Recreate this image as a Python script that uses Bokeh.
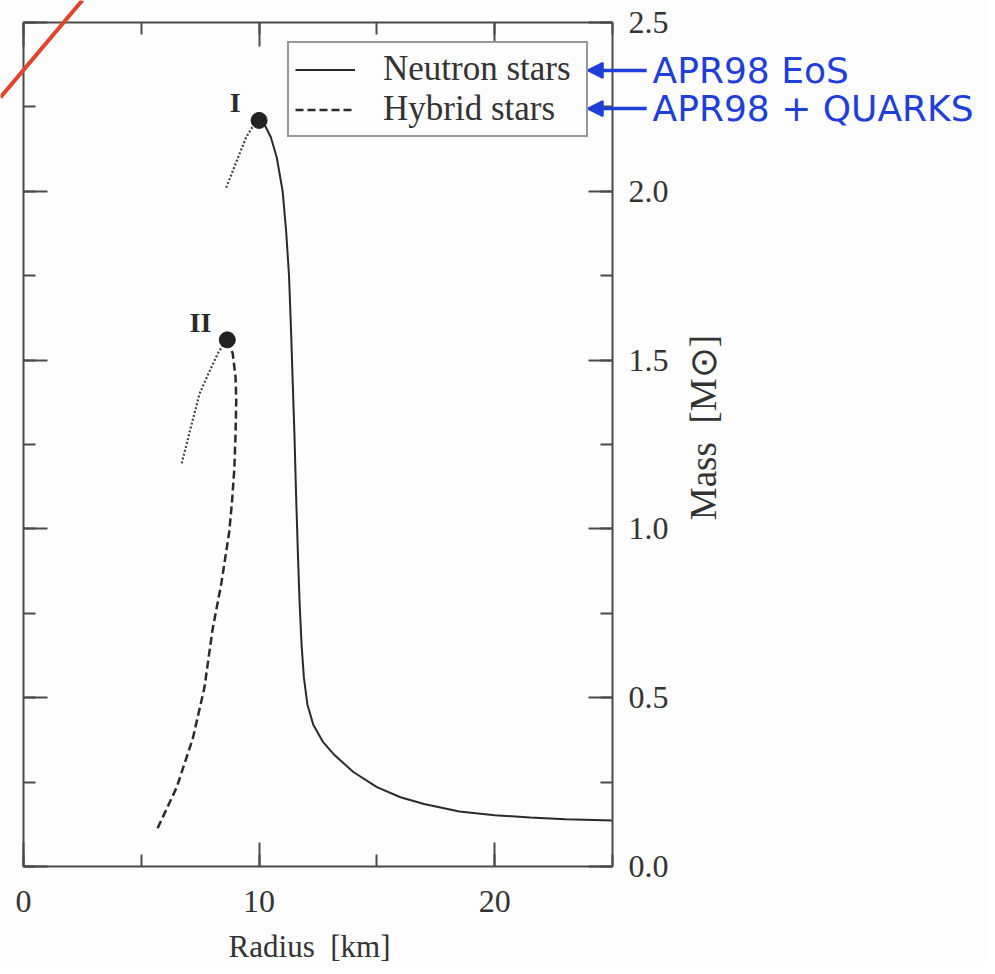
from bokeh.plotting import figure
from bokeh.models import (LinearAxis, SingleIntervalTicker, Range1d, Legend, LegendItem,
                          Label, Arrow, NormalHead, PrintfTickFormatter, CustomJSTickFormatter)
from bokeh.core.properties import value
from bokeh.embed import file_html
from bokeh.resources import INLINE
import math

# ---- data ----
ns_r = [10.0, 10.25, 10.5, 10.75, 11.0, 11.15, 11.27, 11.35, 11.42, 11.5, 11.57, 11.65,
        11.72, 11.8, 11.9, 12.05, 12.3, 12.7, 13.2, 14.0, 15.0, 16.0, 17.0, 18.5, 20.0,
        21.5, 23.0, 25.0]
ns_m = [2.21, 2.195, 2.16, 2.10, 2.00, 1.88, 1.75, 1.60, 1.45, 1.28, 1.10, 0.92,
        0.78, 0.66, 0.56, 0.48, 0.42, 0.37, 0.33, 0.28, 0.235, 0.205, 0.185, 0.163, 0.152,
        0.145, 0.140, 0.136]

ns_unstable_r = [9.8, 9.45, 9.05, 8.6]
ns_unstable_m = [2.20, 2.16, 2.09, 2.01]

hy_r = [8.65, 8.88, 9.0, 9.03, 9.0, 8.95, 8.85, 8.73, 8.4, 8.02, 7.68, 7.19, 6.5, 5.65]
hy_m = [1.56, 1.52, 1.45, 1.38, 1.28, 1.18, 1.08, 0.99, 0.84, 0.70, 0.53, 0.38, 0.234, 0.107]

hy_unstable_r = [8.55, 8.25, 7.85, 7.47, 7.1, 6.7]
hy_unstable_m = [1.555, 1.52, 1.46, 1.40, 1.30, 1.19]

peak_r = [10.0, 8.65]
peak_m = [2.21, 1.56]
peak_names = ["I", "II"]
peak_label_r = [8.99, 7.51]
peak_label_m = [2.263, 1.611]

series_names = ["Neutron stars", "Hybrid stars"]
notes = ["APR98  EoS", "APR98 + QUARKS"]
note_m = [2.358, 2.245]

r_min, r_max = 0, 25      # radius axis extent [km]
m_min, m_max = 0, 2.5     # mass axis extent

x_title = "Radius\u00a0\u00a0[km]"
y_title = "Mass\u00a0\u00a0[M\u2299]"

# ---- layout constants (pixels) ----
W, H = 987, 966
BOX_L, BOX_R, BOX_T, BOX_B = 23, 612, 22, 866   # the drawn plot box inside the canvas
sx = (BOX_R - BOX_L) / (r_max - r_min)
sy = (BOX_B - BOX_T) / (m_max - m_min)
x_view = (r_min - BOX_L / sx, r_max + (W - BOX_R) / sx)
y_view = (m_min - (H - BOX_B) / sy, m_max + BOX_T / sy)

SERIF = "Liberation Serif"
INK = "#2a2a2a"
AX = "#4a4a4a"
BG = "#fdfdfd"
BLUE = "#1f3fd8"

p = figure(width=W, height=H, x_range=Range1d(*x_view), y_range=Range1d(*y_view),
           output_backend="svg", toolbar_location=None,
           x_axis_location=None, y_axis_location=None,
           min_border_left=0, min_border_top=0, min_border_right=0, min_border_bottom=0)
p.grid.visible = False
p.outline_line_color = None
p.background_fill_color = BG
p.border_fill_color = BG

blank = CustomJSTickFormatter(code="return ''")


def style_axis(ax):
    ax.axis_line_color = AX
    ax.axis_line_width = 2
    ax.major_tick_line_color = AX
    ax.minor_tick_line_color = AX
    ax.major_tick_line_width = 2
    ax.minor_tick_line_width = 2
    ax.major_tick_in = 24
    ax.major_tick_out = 0
    ax.minor_tick_in = 12
    ax.minor_tick_out = 0
    ax.major_label_text_font = SERIF
    ax.major_label_text_font_size = "32px"
    ax.major_label_text_color = "#333333"


xb = LinearAxis(ticker=SingleIntervalTicker(interval=10, num_minor_ticks=2),
                bounds=(r_min, r_max), fixed_location=m_min)
style_axis(xb)
xb.major_label_standoff = 24
xt = LinearAxis(ticker=SingleIntervalTicker(interval=10, num_minor_ticks=2), formatter=blank,
                bounds=(r_min, r_max), fixed_location=m_max)
style_axis(xt)
yl = LinearAxis(ticker=SingleIntervalTicker(interval=0.5, num_minor_ticks=2), formatter=blank,
                bounds=(m_min, m_max), fixed_location=r_min)
style_axis(yl)
yr = LinearAxis(ticker=SingleIntervalTicker(interval=0.5, num_minor_ticks=2),
                formatter=PrintfTickFormatter(format="%.1f"),
                bounds=(m_min, m_max), fixed_location=r_max)
style_axis(yr)
yr.major_label_standoff = 16

p.add_layout(xb, "below")
p.add_layout(xt, "above")
p.add_layout(yl, "left")
p.add_layout(yr, "right")

# axis titles
p.add_layout(Label(x=12.14, y=-0.237, text=x_title, text_align="center",
                   text_baseline="middle", text_font=SERIF, text_font_size="31px",
                   text_color="#333333"))
p.add_layout(Label(x=28.85, y=1.30, text=y_title, angle=math.pi / 2, text_align="center",
                   text_baseline="middle", text_font=SERIF, text_font_size="37px",
                   text_color="#333333"))

# ---- curves ----
r_ns = p.line(ns_r, ns_m, line_color=INK, line_width=2)
p.line(ns_unstable_r, ns_unstable_m, line_color="#444444", line_width=2.2, line_dash="2 2")
r_hy = p.line(hy_r, hy_m, line_color=INK, line_width=2.5, line_dash="8 4")
p.line(hy_unstable_r, hy_unstable_m, line_color="#444444", line_width=2.2, line_dash="2 2")

p.scatter(peak_r, peak_m, size=16, color="#222222")
p.text(peak_label_r, peak_label_m, text=peak_names, text_font=value(SERIF),
       text_font_style="bold", text_font_size="28px", text_align="center",
       text_baseline="middle", text_color=INK)

legend = Legend(items=[LegendItem(label=series_names[0], renderers=[r_ns]),
                       LegendItem(label=series_names[1], renderers=[r_hy])],
                location=(287, H - 137))
legend.border_line_color = "#333333"
legend.border_line_width = 2
legend.background_fill_color = BG
legend.background_fill_alpha = 1
legend.padding = 6
legend.spacing = 0
legend.margin = 0
legend.label_height = 35
legend.glyph_height = 35
legend.glyph_width = 60
legend.label_standoff = 28
legend.label_width = 197
legend.label_text_font = SERIF
legend.label_text_font_size = "35px"
legend.label_text_color = "#333333"
p.add_layout(legend)

# ---- handwritten notes ----
for txt, m in zip(notes, note_m):
    p.add_layout(Arrow(x_start=26.45, y_start=m, x_end=23.95, y_end=m,
                       end=NormalHead(size=15, fill_color=BLUE, line_color=BLUE, line_width=2),
                       line_color=BLUE, line_width=3.5))
    p.add_layout(Label(x=26.7, y=m, text=txt, text_color=BLUE, text_font="DejaVu Sans",
                       text_font_size="36px", text_baseline="middle"))

# red stroke in the corner
p.add_layout(Arrow(x_start=-0.98, y_start=2.278, x_end=2.5, y_end=2.566, end=None,
                   line_color="#e0462e", line_width=4))

open("out.html", "w").write(file_html(p, INLINE))
